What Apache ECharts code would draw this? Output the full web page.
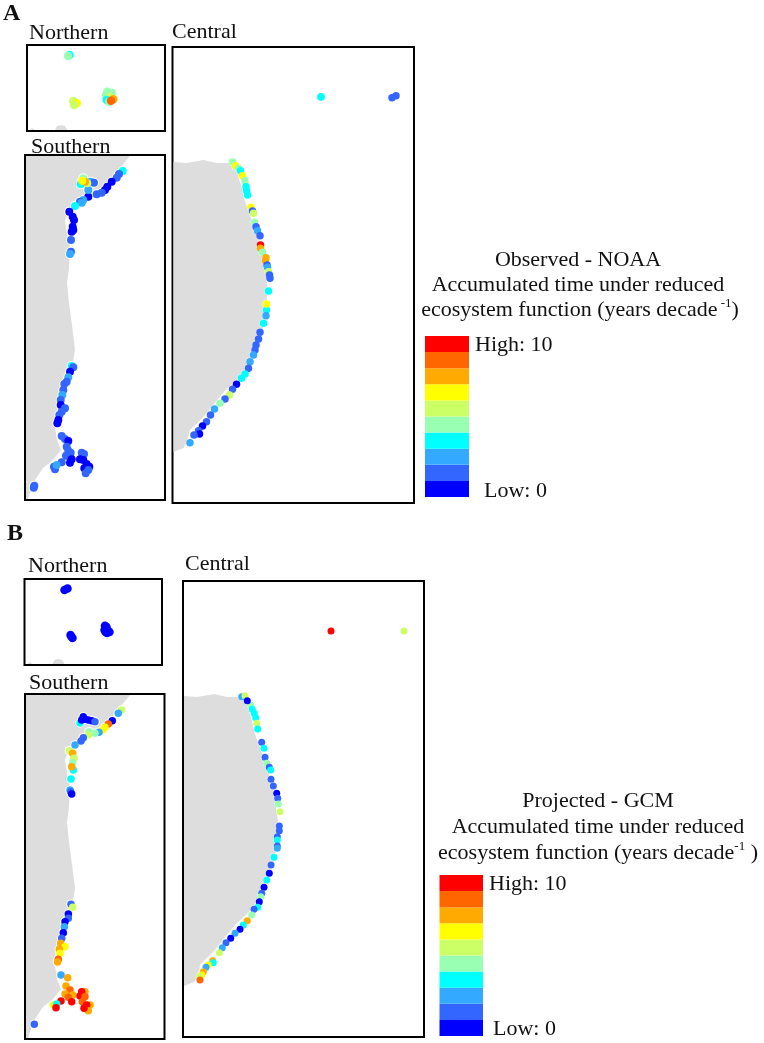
<!DOCTYPE html>
<html>
<head>
<meta charset="utf-8">
<style>html,body{margin:0;padding:0;background:#fff}#c{width:764px;height:1043px}</style>
<script src="https://cdn.jsdelivr.net/npm/echarts@6/dist/echarts.min.js"></script>
</head>
<body>
<div id="c"></div>
<script>
// Colour classes, low to high
const levelColors = ['#0000ff','#3366ff','#33aaff','#00ffff','#99ffb3','#ccff66','#ffff00','#ffaa00','#ff6600','#ff0000'];
const legendLevels = [0,1,2,3,4,5,6,7,8,9];

// Land outlines (map units)
const landNorthernIslet = [[3,85],[5,83],[8,85]];
const landNorthernBlob = [[28,85],[30,81],[34,80],[38,81],[40,85]];
const landSouthern = [[1,1],[105,1],[95,13],[85,26],[75,36],[63,43],[52,51],[43,58],[40,66],[42,79],[45,93],[44,113],[42,128],[44,148],[48,178],[50,195],[47,212],[40,232],[35,252],[30,272],[32,285],[36,295],[28,305],[18,313],[10,325],[5,338],[3,344],[1,344]];
const landCentral = [[1,115],[14,116],[31,113],[44,116],[56,116],[63,121],[69,140],[72,153],[78,170],[82,180],[86,193],[91,213],[93,226],[95,240],[94,256],[92,276],[87,293],[80,306],[74,320],[66,331],[53,343],[43,355],[31,370],[17.5,383],[14,396],[11,401],[1,405]];

// Panel A – observed (x, y, level)
const obsNorthern = [[42.5,10,3],[41,11,4],[46.3,56,5],[49.7,58.3,6],[47,60,5],[80.3,46.7,4],[84.7,47.7,4],[79,50,4],[83,51.7,5],[79.7,55,3],[82.3,56.7,4],[86.3,54.3,7],[84,55.7,8]];
const obsSouthern = [[97.7,16,3],[94,19,1],[91.7,22.7,1],[86.7,26.7,0],[82.3,31.7,0],[80,35,0],[76.7,37.7,1],[71.7,39.3,1],[63.3,41.7,0],[58.3,45,2],[55,46.7,1],[56.7,47.7,2],[50,51,3],[63.3,35,2],[65.7,26.7,2],[69,27.7,1],[58.3,23.3,4],[55.7,29.3,3],[62.3,28.3,5],[60,26.7,7],[57.3,25.7,6],[44.3,56.7,0],[47.7,61.7,0],[49,65,0],[47.7,71.7,0],[48.3,75,0],[46.7,76.7,0],[46,85,1],[46,96.7,1],[45,99,2],[46.7,211,3],[48.3,212.3,1],[45,216.7,0],[43.3,222.3,2],[41.7,226.7,1],[39.3,229,1],[38.3,235,1],[37.3,240,2],[35.7,245,1],[35.7,250,0],[40,253.3,1],[36.7,256.7,1],[34.3,260,1],[33.3,265,0],[32.3,268.3,0],[36.7,281,1],[40,284,1],[43.3,286,0],[41.7,291.7,1],[43.3,295.7,1],[45.7,297.7,1],[41,300.7,1],[45,302.3,1],[46.7,304.3,0],[45,307.7,0],[56.7,297.7,1],[59,299,1],[55,304.3,0],[58.3,305,0],[61.7,309,0],[64.3,311.7,0],[59.3,313.3,0],[63.3,315,1],[60.7,318.3,1],[36.7,307.3,1],[29,311.7,1],[30,314.3,1],[31.7,310,2],[9.3,330.7,1],[8.7,332.7,1]];
const obsCentral = [[148.5,49.7,3],[148.5,50,3],[219.5,50.7,1],[223.5,48.7,1],[60,115,4],[63,118.7,6],[66,121.3,4],[68,123.7,3],[70,128.7,6],[72.5,133.7,4],[73.5,139.7,3],[74,143.7,3],[75,148,3],[78.5,160.3,6],[80,164,1],[81,166.3,5],[82,175.3,4],[83.5,179.7,1],[85,183.7,2],[87.5,188.7,1],[88,198,9],[88,201.3,7],[90,205.3,4],[93.5,210.7,7],[93,213.7,7],[94.5,218,1],[95,220.3,2],[96,224.7,5],[97,228,1],[97.5,231.3,1],[96,244,3],[94,263,3],[94,257,6],[93.5,268.7,2],[91,276.3,3],[87.5,285.3,1],[86,292,1],[83.5,298,1],[82.5,303,1],[81,308,2],[77.5,314.7,2],[76,321.3,1],[72.5,327,3],[69,331.3,3],[64,337.3,0],[60,342.3,1],[57,348,5],[52.5,352,1],[47.5,356.3,4],[42,362,2],[38,368,1],[34,374.7,1],[30,379,0],[26,383.7,1],[27,387,0],[21.5,388,1],[17.5,395.7,2]];

// Panel B – projected (x, y, level)
const gcmNorthern = [[40,11,0],[43,9.5,0],[47,57.7,0],[46,56,0],[48,59,0],[80.5,46.7,0],[82,48,0],[80,51,0],[83,51,0],[81,53,0],[85,53,0],[82.5,54,0]];
const gcmSouthern = [[96.7,16,5],[93.3,19.3,2],[87.3,26.7,0],[83.3,30,8],[80,33.3,6],[77.7,36,6],[74,38.3,2],[70,39.3,4],[64,37.7,4],[63.3,41,5],[58.3,43.7,1],[56,47,1],[50,51,2],[55,29,3],[58.3,22.7,0],[56.7,26,0],[60,25.3,0],[63.3,26,0],[66.7,26.7,0],[70,27.7,1],[44.3,56.7,5],[47.7,59.3,7],[49,64.3,5],[47.7,68.7,4],[48.3,76,3],[46.7,72.7,7],[46,85,3],[45,96,2],[45.7,97.7,1],[46.7,100,0],[46,210.3,1],[47.7,213.3,5],[43.3,220,0],[43.3,224.3,1],[40,227.7,0],[39.3,232.7,2],[38.3,238.7,0],[36.7,244.3,1],[35.7,249.3,7],[40,252.7,6],[34.3,255.3,7],[35,259.3,6],[33.3,265.3,8],[32.5,268,7],[36,281,2],[42.7,283.7,7],[41,292,7],[45,296,8],[40,300,7],[47.7,301,7],[43.3,303.3,8],[46.7,307.7,9],[60,297.7,7],[56.7,297.7,9],[55,302,9],[60,302.7,8],[57.3,307.7,8],[65,311,7],[61.7,311,9],[63.3,316.7,7],[59,314.3,9],[36,307,9],[28.3,311,6],[31.7,310,3],[31,313.7,9],[9.3,330.3,1]];
const gcmCentral = [[148,50,9],[221,50,5],[58.7,115.7,2],[62,114.7,5],[67.7,124,4],[64.3,119.7,0],[69.3,128.3,3],[71.3,132.3,3],[72.7,136.7,3],[73.7,142.3,5],[74.7,148,3],[78.7,161.3,1],[81,167.3,3],[82,176.3,1],[83.7,182.3,4],[86.3,186.3,1],[87.7,189,3],[88,198.3,1],[90.3,205,1],[93.7,212.3,0],[94.7,217.3,1],[95.3,223,4],[97,230.7,5],[96.3,245,1],[96.3,249.7,1],[94.3,255.7,1],[94.3,259,3],[94.3,265,1],[94.3,267.3,2],[91,276.3,3],[88,284,1],[86.3,292.3,0],[83.7,299,3],[81,306.3,0],[78.7,312.3,1],[77.7,315.7,4],[76.3,320.7,0],[74.7,326.3,3],[71,328.3,1],[68.7,334,4],[64.3,339.7,7],[60.3,344,3],[57,348.3,0],[52,352.3,2],[47.7,357.3,0],[43,361.7,1],[39.3,366.7,2],[36.3,371.7,5],[29.7,379.7,7],[30.3,381.7,3],[25.3,384,6],[23,386.3,2],[20.3,390.7,7],[18.7,394,6],[16.3,395.7,5],[17,399,8]];

const panels = [
  {box:[27,45,138,86],   lands:[landNorthernBlob,landNorthernIslet], points:obsNorthern, size:8.5, halo:0},
  {box:[25,155,140,345], lands:[landSouthern], points:obsSouthern, size:8, halo:2},
  {box:[172.5,47,241.5,456], lands:[landCentral], points:obsCentral, size:7.5, halo:0.5},
  {box:[24.5,579,137.5,86],  lands:[landNorthernBlob,landNorthernIslet], points:gcmNorthern, size:8.5, halo:0},
  {box:[25,694,139.5,345],   lands:[landSouthern], points:gcmSouthern, size:7.5, halo:2},
  {box:[183,581,241,456],    lands:[landCentral], points:gcmCentral, size:7, halo:0.5}
];
const legends = [[425,336,44,161],[439.5,875,43.5,161]];

const FONT = '"Liberation Serif","Times New Roman",serif';
const texts = [
  ['A',3,23,24,'bold'],['B',7,543,24,'bold'],
  ['Northern',29,41],['Southern',31,155],['Central',172,40],
  ['Northern',28,574],['Southern',29,691],['Central',185,572],
  ['High: 10',475,353],['Low: 0',484,499],['High: 10',489,892],['Low: 0',493,1037]
];
const headings = [
  ['Observed - NOAA',578,268],['Accumulated time under reduced',578,293],
  ['{a|ecosystem function (years decade}{s| -1}{a|)}',580,318],
  ['Projected - GCM',598,809],['Accumulated time under reduced',598,835],
  ['{a|ecosystem function (years decade}{s|-1}{a| )}',598,861]
];

const grid=[], xAxis=[], yAxis=[], series=[];
panels.forEach((p,i)=>{
  grid.push({left:p.box[0],top:p.box[1],width:p.box[2],height:p.box[3],show:true,borderColor:'#000',borderWidth:2,backgroundColor:'transparent'});
  xAxis.push({gridIndex:i,type:'value',min:0,max:p.box[2],show:false});
  yAxis.push({gridIndex:i,type:'value',min:0,max:p.box[3],inverse:true,show:false});
  p.lands.forEach(land=>{
    series.push({type:'custom',xAxisIndex:i,yAxisIndex:i,z:1,silent:true,data:land,
      renderItem:(params,api)=>params.dataIndex===0?{type:'polygon',shape:{points:land.map(c=>api.coord(c))},style:{fill:'#dddddd'}}:null});
  });
  if(p.halo) series.push({type:'scatter',xAxisIndex:i,yAxisIndex:i,z:2,silent:true,data:p.points,symbolSize:p.size+p.halo,itemStyle:{color:'#fff',opacity:1}});
  series.push({type:'scatter',xAxisIndex:i,yAxisIndex:i,z:3,silent:true,data:p.points,symbolSize:p.size,
    itemStyle:{opacity:1,color:c=>levelColors[c.value[2]]}});
});
legends.forEach((b,k)=>{
  const i=panels.length+k;
  grid.push({left:b[0],top:b[1],width:b[2],height:b[3]});
  xAxis.push({gridIndex:i,type:'value',min:0,max:1,show:false});
  yAxis.push({gridIndex:i,type:'category',data:legendLevels,show:false});
  series.push({type:'bar',xAxisIndex:i,yAxisIndex:i,barWidth:'100%',silent:true,
    data:legendLevels.map(()=>1),itemStyle:{color:c=>levelColors[c.dataIndex]}});
});
const title=[];
texts.forEach(t=>{
  const fs=t[3]||22;
  title.push({text:t[0],left:t[1],top:t[2]-fs*0.95,padding:0,textStyle:{fontFamily:FONT,fontSize:fs,fontWeight:t[4]||'normal',color:'#111',lineHeight:fs*1.15}});
});
const rich={a:{fontFamily:FONT,fontSize:22,fontWeight:'normal',color:'#111',lineHeight:25},s:{fontFamily:FONT,fontSize:13,fontWeight:'normal',color:'#111',lineHeight:25,verticalAlign:'top'}};
headings.forEach(t=>{
  title.push({text:t[0],left:t[1],top:t[2]-20.5,padding:0,textAlign:'center',textStyle:{fontFamily:FONT,fontSize:22,fontWeight:'normal',color:'#111',lineHeight:25,rich}});
});
const chart=echarts.init(document.getElementById('c'),null,{renderer:'canvas'});
chart.setOption({animation:false,backgroundColor:'#fff',title,grid,xAxis,yAxis,series,tooltip:{show:false}});
</script>
</body>
</html>
